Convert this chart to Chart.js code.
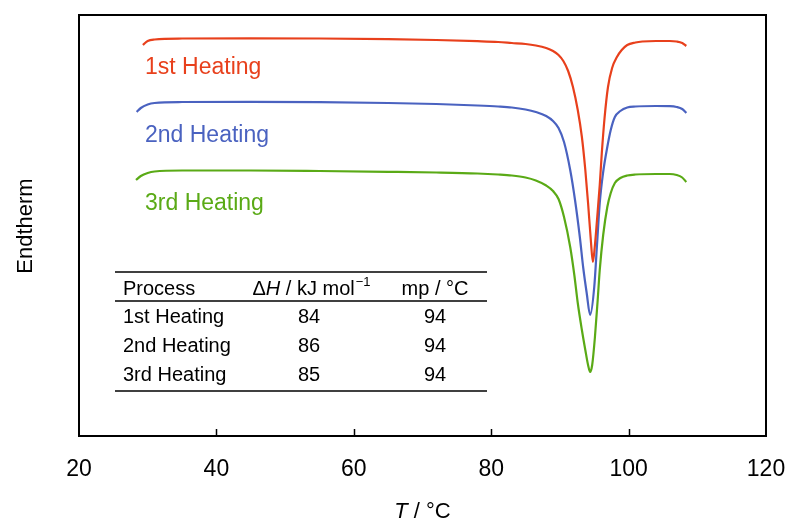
<!DOCTYPE html>
<html>
<head>
<meta charset="utf-8">
<script src="https://cdn.jsdelivr.net/npm/chart.js@4/dist/chart.umd.min.js"></script>
<style>
  html, body { margin: 0; padding: 0; background: #fff; }
  #wrap { width: 787px; height: 522px; }
</style>
</head>
<body>
<div id="wrap"><canvas id="dsc"></canvas></div>
<script>
// temperatures (°C) and heat flow (arb. units, endotherm down)
const t1 = [29.3, 30, 31, 35, 45, 55, 65, 72, 78, 81, 83, 85, 86.5, 88, 89, 89.8, 90.5, 91.2, 91.9, 92.6, 93.2, 93.7, 94.1, 94.5, 94.8, 95.1, 95.4, 95.8, 96.1, 96.5, 97, 97.6, 98.3, 99, 99.8, 101, 102, 104, 106, 107, 107.8, 108.4];
const heat1 = [39.1, 39.5, 39.65, 39.75, 39.77, 39.75, 39.68, 39.6, 39.48, 39.4, 39.3, 39.2, 39.05, 38.8, 38.5, 38.1, 37.5, 36.5, 34.9, 32.6, 29.9, 26.6, 23.3, 19.6, 17.4, 19.1, 21.6, 25.1, 28.3, 31.8, 34.9, 36.8, 37.9, 38.6, 39.1, 39.35, 39.45, 39.5, 39.5, 39.45, 39.3, 39.0];

const t2 = [28.4, 29, 30, 31, 35, 45, 55, 65, 72, 78, 81, 83, 85, 86.5, 88, 89, 89.8, 90.6, 91.5, 92.2, 92.9, 93.4, 93.9, 94.4, 95, 95.4, 95.8, 96.3, 96.9, 97.4, 98, 98.8, 99.8, 101, 104, 106, 107, 107.8, 108.4];
const heat2 = [32.4, 32.8, 33.15, 33.3, 33.4, 33.42, 33.38, 33.3, 33.2, 33.05, 32.95, 32.85, 32.65, 32.4, 32.0, 31.5, 30.8, 29.4, 26.6, 23.6, 19.9, 16.8, 14.3, 12.1, 14.9, 19.1, 23.3, 26.4, 28.9, 30.6, 31.9, 32.5, 32.85, 32.95, 33.0, 32.98, 32.9, 32.7, 32.3];

const t3 = [28.3, 29, 30, 31, 35, 45, 55, 65, 72, 78, 81, 83, 85, 86.5, 88, 89, 89.8, 90.6, 91.5, 92.1, 92.6, 93.2, 93.7, 94.1, 94.4, 94.7, 95.1, 95.5, 95.8, 96.3, 96.9, 97.4, 98, 98.8, 99.8, 101, 104, 106, 107, 107.8, 108.4];
const heat3 = [25.6, 26.0, 26.3, 26.45, 26.55, 26.55, 26.5, 26.42, 26.35, 26.25, 26.15, 26.05, 25.85, 25.55, 25.05, 24.5, 23.7, 21.9, 18.9, 16.1, 13.3, 10.6, 8.6, 7.1, 6.4, 7.1, 9.9, 13.6, 16.6, 20.1, 22.9, 24.3, 25.3, 25.8, 26.05, 26.15, 26.2, 26.2, 26.1, 25.85, 25.4];

const seriesNames = ['1st Heating', '2nd Heating', '3rd Heating'];
const seriesColors = ['#e8401c', '#4a62c0', '#5aaa16'];

// table values
const tableProcess = ['1st Heating', '2nd Heating', '3rd Heating'];
const tableDH = ['84', '86', '85'];
const tableMp = ['94', '94', '94'];

const xTicks = [20, 40, 60, 80, 100, 120];

function pts(xs, ys) {
  return xs.map((x, i) => ({ x: x, y: ys[i] }));
}

const FONT = '"Liberation Sans", Arial, sans-serif';

const decor = {
  id: 'decor',
  afterDraw(chart) {
    const ctx = chart.ctx;
    const a = chart.chartArea;
    const xs = chart.scales.x;
    ctx.save();
    // frame
    ctx.strokeStyle = '#000';
    ctx.lineWidth = 2;
    ctx.strokeRect(a.left, a.top, a.right - a.left, a.bottom - a.top);
    // inward ticks
    ctx.lineWidth = 1.5;
    xTicks.slice(1, -1).forEach(v => {
      const px = Math.round(xs.getPixelForValue(v)) + 0.5;
      ctx.beginPath();
      ctx.moveTo(px, a.bottom);
      ctx.lineTo(px, a.bottom - 7);
      ctx.stroke();
    });

    // axis titles
    ctx.fillStyle = '#000';
    ctx.textBaseline = 'alphabetic';
    ctx.font = 'italic 22px ' + FONT;
    const tW = ctx.measureText('T').width;
    ctx.font = '22px ' + FONT;
    const restW = ctx.measureText(' / °C').width;
    const cx = (a.left + a.right) / 2;
    let x0 = cx - (tW + restW) / 2;
    ctx.font = 'italic 22px ' + FONT;
    ctx.textAlign = 'left';
    ctx.fillText('T', x0, 518);
    ctx.font = '22px ' + FONT;
    ctx.fillText(' / °C', x0 + tW, 518);

    ctx.save();
    ctx.translate(32, 226);
    ctx.rotate(-Math.PI / 2);
    ctx.textAlign = 'center';
    ctx.font = '22px ' + FONT;
    ctx.fillText('Endtherm', 0, 0);
    ctx.restore();

    // series labels
    ctx.font = '23px ' + FONT;
    ctx.textAlign = 'left';
    const labelY = [74, 142, 210];
    seriesNames.forEach((n, i) => {
      ctx.fillStyle = seriesColors[i];
      ctx.fillText(n, 145, labelY[i]);
    });

    // table
    ctx.strokeStyle = '#000';
    ctx.lineWidth = 1.5;
    [272, 301, 391].forEach(y => {
      ctx.beginPath();
      ctx.moveTo(115, y);
      ctx.lineTo(487, y);
      ctx.stroke();
    });
    ctx.fillStyle = '#000';
    ctx.font = '20px ' + FONT;
    ctx.textAlign = 'left';
    ctx.fillText('Process', 123, 295);
    // ΔH / kJ mol⁻¹ header
    const parts = [
      { s: 'Δ', f: '20px ' + FONT },
      { s: 'H', f: 'italic 20px ' + FONT },
      { s: ' / kJ mol', f: '20px ' + FONT }
    ];
    let w = 0;
    parts.forEach(p => { ctx.font = p.f; p.w = ctx.measureText(p.s).width; w += p.w; });
    ctx.font = '13px ' + FONT;
    const supW = ctx.measureText('−1').width;
    w += supW;
    let hx = 311 - w / 2;
    parts.forEach(p => { ctx.font = p.f; ctx.fillText(p.s, hx, 295); hx += p.w; });
    ctx.font = '13px ' + FONT;
    ctx.fillText('−1', hx + 1, 286);
    ctx.font = '20px ' + FONT;
    ctx.textAlign = 'center';
    ctx.fillText('mp / °C', 435, 295);
    const rowY = [323, 352, 381];
    tableProcess.forEach((p, i) => {
      ctx.textAlign = 'left';
      ctx.fillText(p, 123, rowY[i]);
      ctx.textAlign = 'center';
      ctx.fillText(tableDH[i], 309, rowY[i]);
      ctx.fillText(tableMp[i], 435, rowY[i]);
    });
    ctx.restore();
  }
};

new Chart(document.getElementById('dsc'), {
  type: 'line',
  data: {
    datasets: [
      { label: seriesNames[0], data: pts(t1, heat1), borderColor: seriesColors[0] },
      { label: seriesNames[1], data: pts(t2, heat2), borderColor: seriesColors[1] },
      { label: seriesNames[2], data: pts(t3, heat3), borderColor: seriesColors[2] }
    ].map(d => Object.assign(d, {
      borderWidth: 2.2,
      pointRadius: 0,
      fill: false,
      cubicInterpolationMode: 'monotone'
    }))
  },
  options: {
    responsive: true,
    maintainAspectRatio: false,
    animation: false,
    layout: { padding: { left: 79, top: 15, right: 21, bottom: 0 } },
    plugins: { legend: { display: false }, tooltip: { enabled: false } },
    scales: {
      x: {
        type: 'linear',
        min: 20,
        max: 120,
        afterFit(scale) {
          scale.height = 86;
          scale.paddingLeft = 0;
          scale.paddingRight = 0;
        },
        afterBuildTicks(scale) { scale.ticks = xTicks.map(v => ({ value: v })); },
        grid: { display: false, drawTicks: false },
        border: { display: false },
        ticks: { color: '#000', font: { family: FONT, size: 23 }, padding: 20, maxRotation: 0 }
      },
      y: {
        display: false,
        min: 0,
        max: 42.1
      }
    }
  },
  plugins: [decor]
});
</script>
</body>
</html>
